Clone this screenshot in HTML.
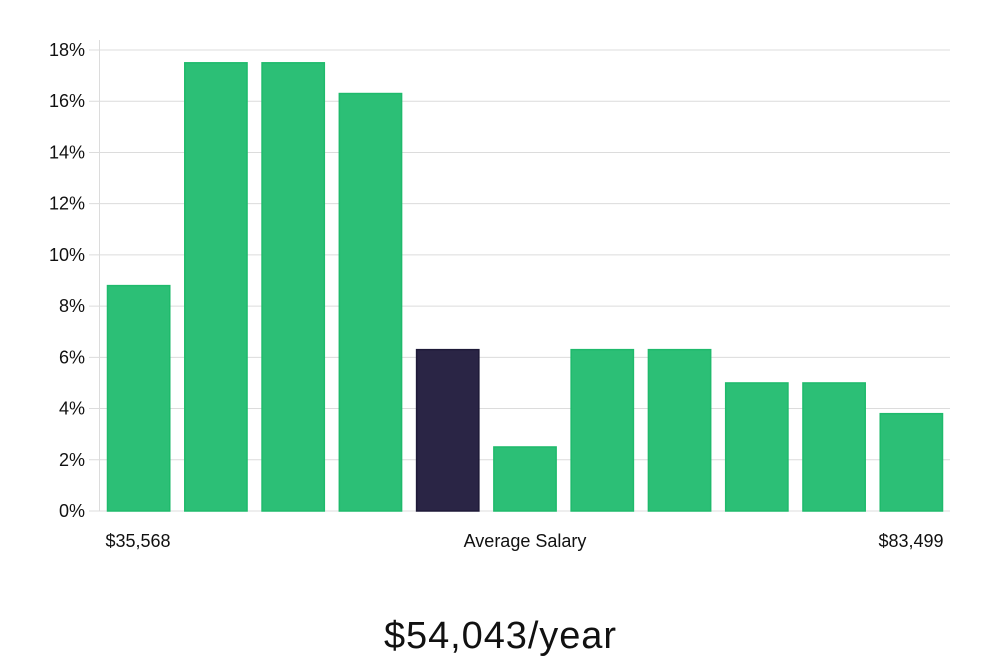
<!DOCTYPE html>
<html><head><meta charset="utf-8"><style>
body{margin:0;background:#fff;width:1000px;height:660px;overflow:hidden}
svg text{font-family:"Liberation Sans","DejaVu Sans",sans-serif}
</style></head><body>
<svg id="chart" width="1000" height="660" xmlns="http://www.w3.org/2000/svg">
<g id="grid"></g><g id="bars"></g><g id="labels"></g>
<text x="138" y="547" font-size="18" fill="#111" text-anchor="middle">$35,568</text>
<text x="525" y="547" font-size="18" fill="#111" text-anchor="middle">Average Salary</text>
<text x="911" y="547" font-size="18" fill="#111" text-anchor="middle">$83,499</text>
<text x="500" y="648" font-size="38" fill="#111" text-anchor="middle" font-weight="300" textLength="232">$54,043/year</text>
</svg>
<script>
const values=[8.8,17.5,17.5,16.3,6.3,2.5,6.3,6.3,5.0,5.0,3.8];
const highlightIndex=[4];
const ticks=[0,2,4,6,8,10,12,14,16,18];
const ns="http://www.w3.org/2000/svg";
const x0=100,x1=950,y0=511,y1=50,yMax=18;
const y=v=>y0-(v/yMax)*(y0-y1);
const band=(x1-x0)/values.length;
const xb=i=>x0+i*band;
const grid=document.getElementById('grid'),bars=document.getElementById('bars');
function mk(t,a,p){const e=document.createElementNS(ns,t);for(const k in a)e.setAttribute(k,a[k]);p.appendChild(e);return e;}
ticks.forEach(t=>{
 const l=mk('line',{x1:89,x2:x1,y1:y(t),y2:y(t),stroke:'#dcdcdc','stroke-width':1},grid);
 
 
 const tx=mk('text',{x:85,y:y(t)+6,'font-size':18,fill:'#111','text-anchor':'end'},grid);
 tx.textContent=t+'%';
 
 
});
const ax=mk('line',{x1:99.5,x2:99.5,y1:40,y2:y0,stroke:'#dcdcdc'},grid);


values.forEach((v,i)=>{
 const hi=highlightIndex.includes(i);
 const r=mk('rect',{x:xb(i)+7.5,y:y(v),width:band-15,height:y0-y(v),fill:hi?'#2a2545':'#2cbf76',stroke:hi?'#1e1a38':'#1fba6c','stroke-width':1.5},bars);
 
 
});
</script>
</body></html>
